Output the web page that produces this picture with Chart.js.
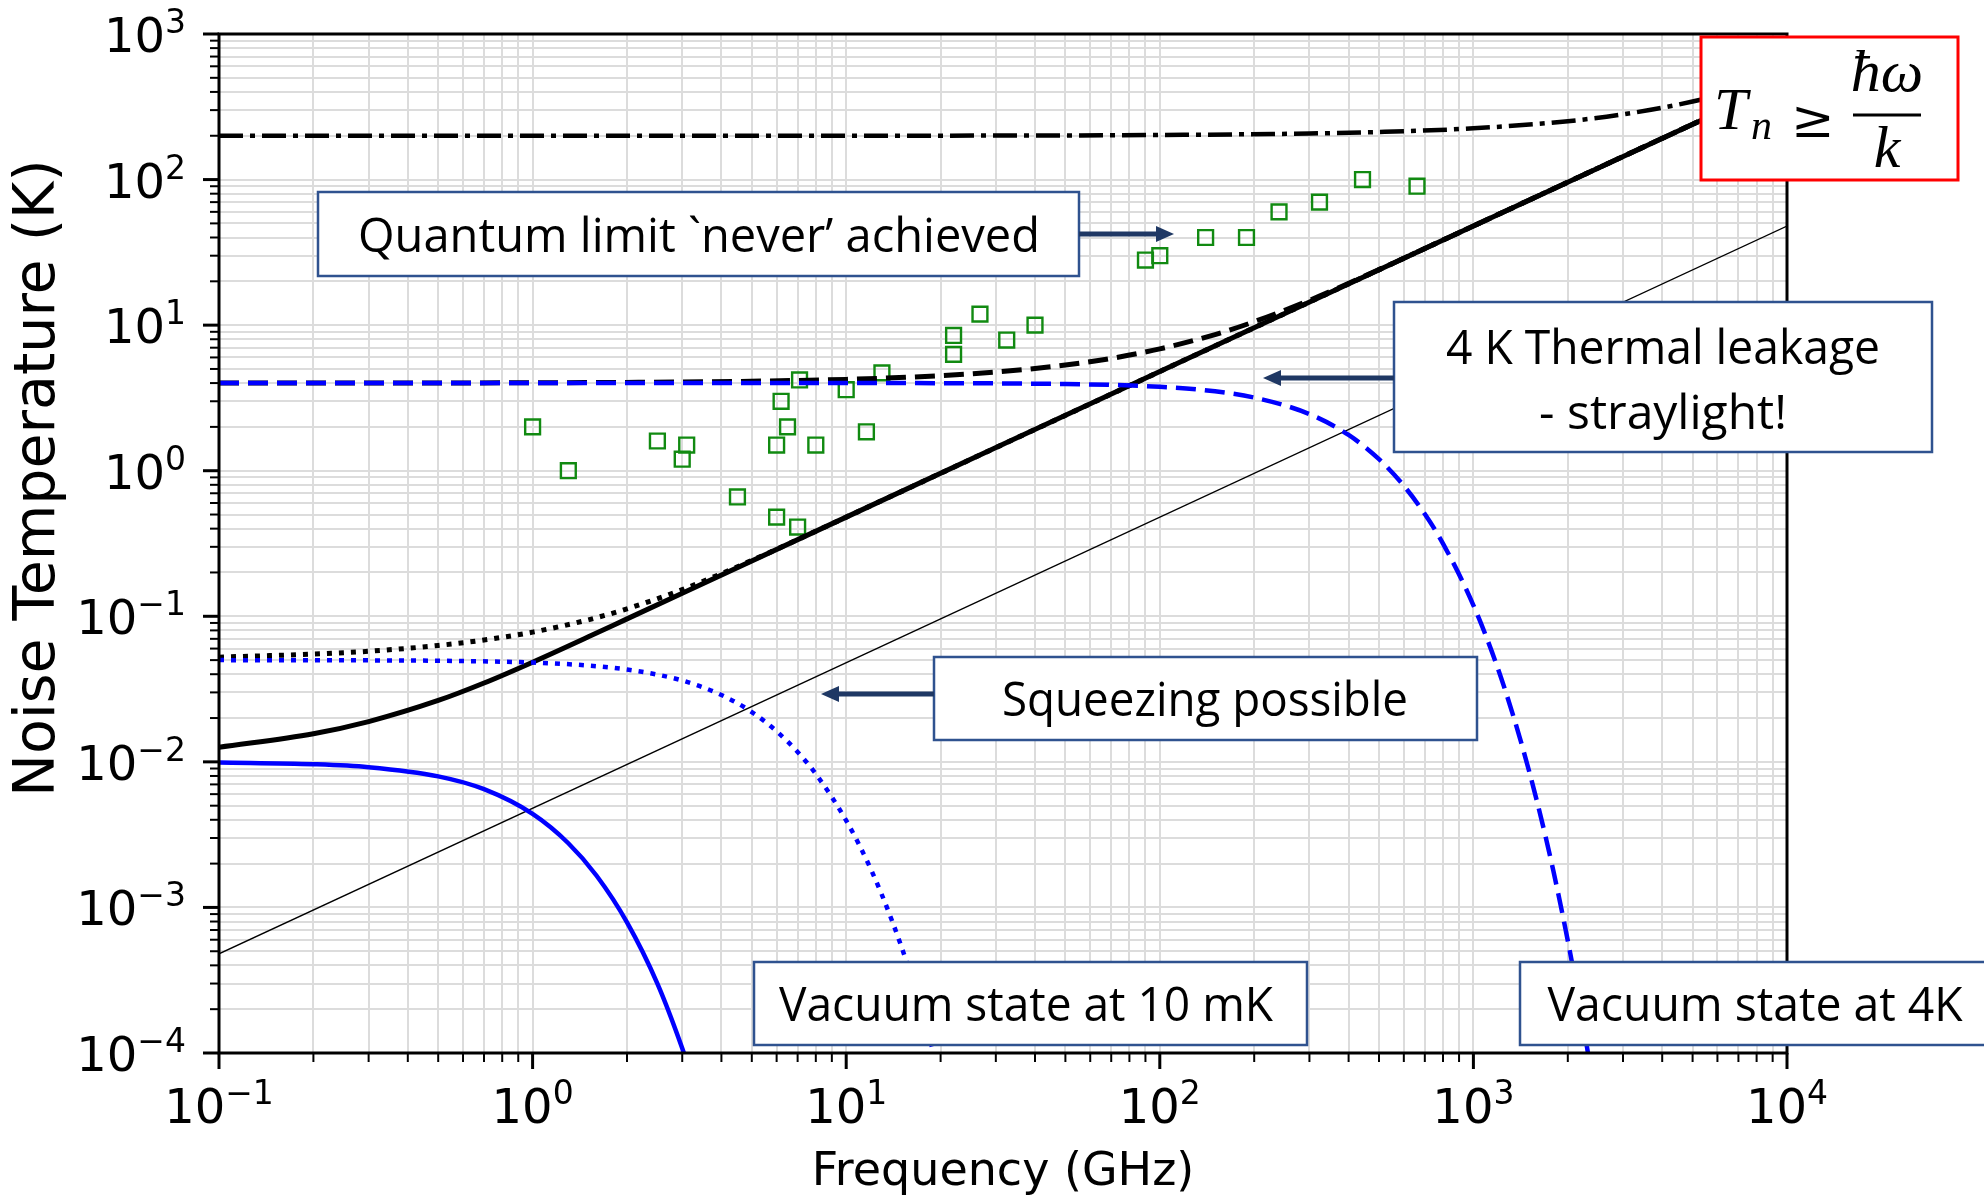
<!DOCTYPE html>
<html lang="en">
<head>
<meta charset="UTF-8" />
<title>Noise temperature vs frequency</title>
<script src="https://cdn.jsdelivr.net/npm/chart.js@4.4.0/dist/chart.umd.min.js"></script>
<style>
  html, body { margin: 0; padding: 0; background: #fff; }
  canvas { display: block; }
</style>
</head>
<body>
<canvas id="noiseChart" width="1984" height="1198"></canvas>
<script>
// frequency in GHz, noise temperature in K
const thinFreq = [0.1, 10000];
const thinTemp = [4.8e-4, 48];

const solid10mKFreq = [0.1, 0.2, 0.3, 0.5, 0.7, 1, 1.5, 2, 3, 10, 100, 1000, 10000];
const solid10mKTemp = [0.0126, 0.0156, 0.0189, 0.0264, 0.0348, 0.0484, 0.0720, 0.0960, 0.144, 0.480, 4.80, 48.0, 480];

const dotted50mKFreq = [0.1, 0.2, 0.3, 0.5, 0.7, 1, 1.5, 2, 3, 5, 7, 10, 100, 1000, 10000];
const dotted50mKTemp = [0.0524, 0.0550, 0.0575, 0.0630, 0.0687, 0.0778, 0.0944, 0.1125, 0.1525, 0.2419, 0.3363, 0.480, 4.80, 48.0, 480];

const dashed4KFreq = [0.1, 1, 10, 20, 30, 50, 70, 100, 150, 200, 300, 500, 700, 1000, 10000];
const dashed4KTemp = [4.00, 4.02, 4.24, 4.50, 4.76, 5.32, 5.91, 6.87, 8.62, 10.56, 14.80, 24.06, 33.60, 48.0, 480];

const dashdot200KFreq = [0.1, 10, 100, 300, 500, 1000, 2000, 3000, 5000, 7000, 10000];
const dashdot200KTemp = [200, 200.2, 202.4, 207.3, 212.2, 225.0, 251.8, 280.6, 343.4, 412.9, 527.8];

const vac10mKFreq = [0.1, 0.2, 0.3, 0.5, 0.7, 1, 1.3, 1.6, 2, 2.5, 3, 3.2];
const vac10mKTemp = [0.00990, 0.00963, 0.00919, 0.00795, 0.00649, 0.00439, 0.00276, 0.00165, 7.9e-4, 3.0e-4, 1.08e-4, 7.1e-5];

const vac50mKFreq = [0.1, 0.3, 0.5, 1, 1.5, 2, 3, 4, 5, 6, 7, 8, 10, 12, 14, 16, 18, 20];
const vac50mKTemp = [0.0500, 0.0498, 0.0495, 0.0481, 0.0459, 0.0431, 0.0362, 0.0288, 0.0220, 0.0162, 0.0117, 0.00826, 0.00395, 0.00182, 8.1e-4, 3.55e-4, 1.53e-4, 6.5e-5];

const vac4KFreq = [0.1, 10, 50, 100, 150, 200, 300, 400, 500, 600, 700, 800, 1000, 1200, 1400, 1600, 1800, 2000, 2200, 2400];
const vac4KTemp = [4.00, 4.00, 3.94, 3.77, 3.51, 3.18, 2.45, 1.76, 1.20, 0.788, 0.504, 0.316, 0.119, 0.0431, 0.0151, 0.00521, 0.00177, 5.9e-4, 1.96e-4, 6.4e-5];

// measured amplifiers
const ampFreq = [1.0, 1.3, 2.5, 3.1, 3.0, 4.5, 6.0, 7.0, 6.0, 6.5, 6.2, 7.1, 8.0, 10, 11.6, 13, 22, 22, 26.7, 32.5, 40, 90, 100, 140, 189, 240, 323, 443, 661];
const ampTemp = [2.0, 1.0, 1.6, 1.5, 1.2, 0.66, 0.48, 0.41, 1.5, 2.0, 3.0, 4.2, 1.5, 3.6, 1.85, 4.7, 6.3, 8.5, 11.9, 7.9, 10, 28, 30, 40, 40, 60, 70, 100, 90];

// axis ticks
const xTicks = [0.1, 1, 10, 100, 1000, 10000];
const xTickExp = ['\u22121', '0', '1', '2', '3', '4'];
const yTicks = [1e-4, 1e-3, 1e-2, 1e-1, 1, 10, 100, 1000];
const yTickExp = ['\u22124', '\u22123', '\u22122', '\u22121', '0', '1', '2', '3'];

const pts = (xs, ys) => xs.map((x, i) => ({ x: x, y: ys[i] }));

function withMinors(majors) {
  const out = [];
  majors.forEach((m, i) => {
    out.push(m);
    if (i < majors.length - 1) for (let k = 2; k <= 9; k++) out.push(m * k);
  });
  return out;
}
const xAll = withMinors(xTicks);
const yAll = withMinors(yTicks);

function lineSet(data, color, width, dash) {
  return {
    data: data, showLine: true, borderColor: color, borderWidth: width,
    borderDash: dash || [], pointRadius: 0, cubicInterpolationMode: 'monotone',
    fill: false, clip: 0, borderCapStyle: 'butt'
  };
}

function drawPow(ctx, exp, x, y10, yExp, align) {
  ctx.font = '48px "DejaVu Sans"';
  const w10 = ctx.measureText('10').width;
  ctx.font = '33px "DejaVu Sans"';
  const wE = ctx.measureText(exp).width;
  const start = align === 'center' ? x - (w10 + wE) / 2 : x - (w10 + wE);
  ctx.textAlign = 'left';
  ctx.textBaseline = 'alphabetic';
  ctx.font = '48px "DejaVu Sans"';
  ctx.fillText('10', start, y10);
  ctx.font = '33px "DejaVu Sans"';
  ctx.fillText(exp, start + w10, yExp);
}

function box(ctx, l, t, r, b, color, lw) {
  ctx.fillStyle = '#fff';
  ctx.fillRect(l, t, r - l, b - t);
  ctx.strokeStyle = color;
  ctx.lineWidth = lw;
  ctx.strokeRect(l, t, r - l, b - t);
}

function arrow(ctx, x0, x1, y) {
  const dir = x1 > x0 ? 1 : -1;
  ctx.strokeStyle = '#1f3864';
  ctx.fillStyle = '#1f3864';
  ctx.lineWidth = 5;
  ctx.beginPath();
  ctx.moveTo(x0, y);
  ctx.lineTo(x1 - dir * 14, y);
  ctx.stroke();
  ctx.beginPath();
  ctx.moveTo(x1, y);
  ctx.lineTo(x1 - dir * 18, y - 8);
  ctx.lineTo(x1 - dir * 18, y + 8);
  ctx.closePath();
  ctx.fill();
}

function label(ctx, text, cx, base, maxW) {
  ctx.fillStyle = '#000';
  ctx.font = '48px "Open Sans"';
  ctx.textAlign = 'center';
  ctx.textBaseline = 'alphabetic';
  ctx.fillText(text, cx, base, maxW);
}

const decor = {
  id: 'decor',
  afterDatasetsDraw(chart) {
    const { ctx, chartArea: a, scales: { x, y } } = chart;
    ctx.save();
    ctx.strokeStyle = '#000';
    ctx.setLineDash([]);
    xAll.forEach(v => {
      const px = x.getPixelForValue(v);
      const major = xTicks.includes(v);
      ctx.lineWidth = major ? 3 : 2;
      ctx.beginPath();
      ctx.moveTo(px, a.bottom);
      ctx.lineTo(px, a.bottom + (major ? 16 : 9));
      ctx.stroke();
    });
    yAll.forEach(v => {
      const py = y.getPixelForValue(v);
      const major = yTicks.includes(v);
      ctx.lineWidth = major ? 3 : 2;
      ctx.beginPath();
      ctx.moveTo(a.left, py);
      ctx.lineTo(a.left - (major ? 16 : 9), py);
      ctx.stroke();
    });
    ctx.lineWidth = 3;
    ctx.strokeRect(a.left, a.top, a.right - a.left, a.bottom - a.top);

    ctx.fillStyle = '#000';
    xTicks.forEach((v, i) => {
      drawPow(ctx, xTickExp[i], x.getPixelForValue(v), a.bottom + 70, a.bottom + 51, 'center');
    });
    yTicks.forEach((v, i) => {
      const py = y.getPixelForValue(v);
      drawPow(ctx, yTickExp[i], a.left - 33, py + 18, py - 1, 'right');
    });

    ctx.font = '46px "DejaVu Sans"';
    ctx.textAlign = 'center';
    ctx.fillText('Frequency (GHz)', (a.left + a.right) / 2, 1185);
    ctx.save();
    ctx.translate(54, 478);
    ctx.rotate(-Math.PI / 2);
    ctx.font = '57px "DejaVu Sans"';
    ctx.textAlign = 'center';
    ctx.fillText('Noise Temperature (K)', 0, 0);
    ctx.restore();
    ctx.restore();
  },
  afterDraw(chart) {
    const ctx = chart.ctx;
    ctx.save();
    ctx.setLineDash([]);
    const blue = '#2f528f';

    box(ctx, 318, 192, 1079, 276, blue, 2.5);
    label(ctx, 'Quantum limit `never\u2019 achieved', 699, 252, 682);
    arrow(ctx, 1079, 1174, 234);

    box(ctx, 1394, 302, 1932, 452, blue, 2.5);
    label(ctx, '4 K Thermal leakage', 1663, 364, 434);
    label(ctx, '- straylight!', 1663, 429, 250);
    arrow(ctx, 1394, 1263, 378);

    box(ctx, 934, 657, 1477, 740, blue, 2.5);
    label(ctx, 'Squeezing possible', 1205, 716, 406);
    arrow(ctx, 934, 821, 694);

    box(ctx, 754, 962, 1307, 1045, blue, 2.5);
    label(ctx, 'Vacuum state at 10 mK', 1026, 1021, 494);

    box(ctx, 1520, 962, 1995, 1045, blue, 2.5);
    label(ctx, 'Vacuum state at 4K', 1755, 1021, 415);

    // formula box
    box(ctx, 1701, 37, 1958, 180, '#ff0000', 3);
    ctx.fillStyle = '#000';
    ctx.textBaseline = 'alphabetic';
    ctx.textAlign = 'left';
    ctx.font = 'italic 60px "Liberation Serif"';
    ctx.fillText('T', 1714, 129);
    ctx.font = 'italic 42px "Liberation Serif"';
    ctx.fillText('n', 1751, 139);
    ctx.font = '52px "DejaVu Serif"';
    ctx.fillText('\u2265', 1791, 137);
    ctx.strokeStyle = '#000';
    ctx.lineWidth = 3;
    ctx.beginPath();
    ctx.moveTo(1853, 115);
    ctx.lineTo(1921, 115);
    ctx.stroke();
    ctx.textAlign = 'center';
    ctx.font = 'italic 60px "Liberation Serif"';
    ctx.fillText('\u0127\u03c9', 1887, 91);
    ctx.fillText('k', 1887, 167);
    ctx.restore();
  }
};

new Chart(document.getElementById('noiseChart'), {
  type: 'scatter',
  data: {
    datasets: [
      lineSet(pts(vac10mKFreq, vac10mKTemp), '#0000ff', 4.5),
      lineSet(pts(vac50mKFreq, vac50mKTemp), '#0000ff', 4.5, [5, 7]),
      lineSet(pts(vac4KFreq, vac4KTemp), '#0000ff', 4.5, [20, 9]),
      lineSet(pts(thinFreq, thinTemp), '#000000', 1.3),
      lineSet(pts(dotted50mKFreq, dotted50mKTemp), '#000000', 5, [5, 7]),
      lineSet(pts(dashed4KFreq, dashed4KTemp), '#000000', 5, [20, 9]),
      lineSet(pts(dashdot200KFreq, dashdot200KTemp), '#000000', 4.5, [24, 7, 5, 7]),
      lineSet(pts(solid10mKFreq, solid10mKTemp), '#000000', 5),
      {
        data: pts(ampFreq, ampTemp), showLine: false, pointStyle: 'rect',
        pointRadius: 10.5, pointBorderWidth: 2.4, pointBorderColor: '#118a11',
        pointBackgroundColor: 'rgba(0,0,0,0)', clip: 0
      }
    ]
  },
  options: {
    responsive: false,
    animation: false,
    events: [],
    layout: { padding: { left: 0, top: 34, right: 197, bottom: 0 } },
    plugins: { legend: { display: false }, tooltip: { enabled: false } },
    scales: {
      x: {
        type: 'logarithmic', min: 0.1, max: 10000,
        afterBuildTicks: s => { s.ticks = xAll.map(v => ({ value: v })); },
        afterFit: s => { s.height = 145; },
        ticks: { display: false },
        grid: { color: '#dcdcdc', lineWidth: 2, drawTicks: false },
        border: { display: false }
      },
      y: {
        type: 'logarithmic', min: 1e-4, max: 1000,
        afterBuildTicks: s => { s.ticks = yAll.map(v => ({ value: v })); },
        afterFit: s => { s.width = 219; },
        ticks: { display: false },
        grid: { color: '#dcdcdc', lineWidth: 2, drawTicks: false },
        border: { display: false }
      }
    }
  },
  plugins: [decor]
});
</script>
</body>
</html>
